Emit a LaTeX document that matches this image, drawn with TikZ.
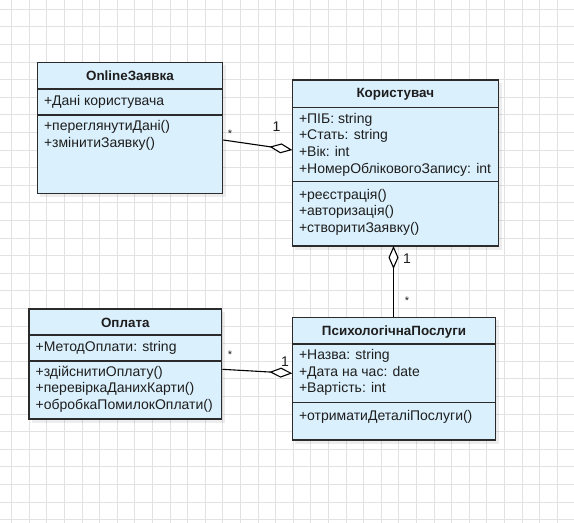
\documentclass[tikz,border=0pt]{standalone}
\usepackage{fontspec}
\setmainfont{Liberation Sans}
\usetikzlibrary{arrows.meta}

\definecolor{classfill}{HTML}{DAF0FC}
\definecolor{classline}{HTML}{2B2B2B}
\definecolor{gridline}{HTML}{E2E2E2}
\definecolor{txt}{HTML}{1E1E1E}

\tikzset{
  classbox/.style={draw=classline, line width=1.4pt, fill=classfill, anchor=north west,
    inner sep=0pt, outer sep=0pt},
  classshadow/.style={fill=black, fill opacity=0.07, draw=none},
  sepline/.style={draw=classline, line width=1.2pt},
  member/.style={anchor=west, inner sep=0pt, font=\fontsize{14}{16}\selectfont, text=txt,
    text height=10pt, text depth=3pt},
  classname/.style={anchor=center, inner sep=0pt, font=\fontsize{13.4}{15}\selectfont\bfseries, text=txt},
  assoc/.style={draw=black, line width=1.1pt},
  aggr/.style={assoc, -{Diamond[fill=white, length=23pt, width=10pt, line width=1.1pt]}},
  mult/.style={inner sep=0pt, font=\fontsize{14}{16}\selectfont, text=txt},
  star/.style={inner sep=0pt, font=\fontsize{11}{12}\selectfont, text=txt}
}

\begin{document}
\begin{tikzpicture}[x=1pt, y=-1pt]
  % canvas and drawing grid
  \fill[white] (0,0) rectangle (574,523);
  \useasboundingbox (0,0) rectangle (574,523);
  \foreach \i in {0,...,32} {
    \draw[gridline, line width=1pt] ({11.7+17.6*\i},0) -- ({11.7+17.6*\i},523);
  }
  \foreach \j in {0,...,29} {
    \draw[gridline, line width=1pt] (0,{9.3+17.6*\j}) -- (574,{9.3+17.6*\j});
  }

  % ---------- OnlineЗаявка ----------
  \fill[classshadow] (40.3,65.3) rectangle (226.2,196.8);
  \node[classbox, minimum width=185.4pt, minimum height=131pt] (oz) at (37.3,62.3) {};
  \draw[sepline] (37.3,89) -- (222.7,89);
  \draw[sepline] (37.3,115) -- (222.7,115);
  \node[classname] (ozT) at (130,76.2) {OnlineЗаявка};
  \node[member] (oz1) at (43.8,101.5) {+Дані користувача};
  \node[member] (oz2) at (43.8,127) {+переглянутиДані()};
  \node[member] (oz3) at (43.8,143.5) {+змінитиЗаявку()};

  % ---------- Користувач ----------
  \fill[classshadow] (295.3,83) rectangle (501.8,249.5);
  \node[classbox, minimum width=206pt, minimum height=166pt] (kor) at (292.3,80) {};
  \draw[sepline] (292.3,107.3) -- (498.3,107.3);
  \draw[sepline] (292.3,181.7) -- (498.3,181.7);
  \node[classname] (korT) at (395.3,93.8) {Користувач};
  \node[member] (kor1) at (298.8,119.5) {+ПІБ: string};
  \node[member] (kor2) at (298.8,136.2) {+Стать: string};
  \node[member] (kor3) at (298.8,152.9) {+Вік: int};
  \node[member] (kor4) at (298.8,169.5) {+НомерОбліковогоЗапису: int};
  \node[member] (kor5) at (298.8,195.8) {+реєстрація()};
  \node[member] (kor6) at (298.8,212) {+авторизація()};
  \node[member] (kor7) at (298.8,228.5) {+створитиЗаявку()};

  % ---------- Оплата ----------
  \fill[classshadow] (32,312) rectangle (225.2,422.5);
  \node[classbox, minimum width=192.7pt, minimum height=110pt] (opl) at (29,309) {};
  \draw[sepline] (29,335) -- (221.7,335);
  \draw[sepline] (29,361) -- (221.7,361);
  \node[classname] (oplT) at (125.3,323.2) {Оплата};
  \node[member] (opl1) at (35.5,347.8) {+МетодОплати: string};
  \node[member] (opl2) at (35.5,372.8) {+здійснитиОплату()};
  \node[member] (opl3) at (35.5,389.4) {+перевіркаДанихКарти()};
  \node[member] (opl4) at (35.5,406) {+обробкаПомилокОплати()};

  % ---------- ПсихологічнаПослуги ----------
  \fill[classshadow] (295.3,320.3) rectangle (499.2,443.5);
  \node[classbox, minimum width=203.4pt, minimum height=122.7pt] (psy) at (292.3,317.3) {};
  \draw[sepline] (292.3,344) -- (495.7,344);
  \draw[sepline] (292.3,402.7) -- (495.7,402.7);
  \node[classname] (psyT) at (394,331.6) {ПсихологічнаПослуги};
  \node[member] (psy1) at (298.8,356.2) {+Назва: string};
  \node[member] (psy2) at (298.8,372.8) {+Дата на час: date};
  \node[member] (psy3) at (298.8,389.4) {+Вартість: int};
  \node[member] (psy4) at (298.8,416.8) {+отриматиДеталіПослуги()};

  % ---------- connector end points on the box edges ----------
  \coordinate (ozR) at (223.3,140);
  \coordinate (korL) at (292.3,150);
  \coordinate (oplR) at (222.3,369.3);
  \coordinate (psyL) at (292.3,373.3);
  \coordinate (korB) at (393.5,246);
  \coordinate (psyTop) at (393.5,317.3);

  % ---------- aggregations ----------
  \draw[aggr] (ozR) -- (korL);
  \draw[aggr] (oplR) -- (psyL);
  \draw[aggr] (psyTop) -- (korB);

  % ---------- multiplicities ----------
  \node[star] (m1) at (230,134) {*};
  \node[mult] (m2) at (276.5,126.5) {1};
  \node[star] (m3) at (230,354.5) {*};
  \node[mult] (m4) at (285,361.5) {1};
  \node[mult] (m5) at (407,258.5) {1};
  \node[star] (m6) at (407,301) {*};
\end{tikzpicture}
\end{document}
